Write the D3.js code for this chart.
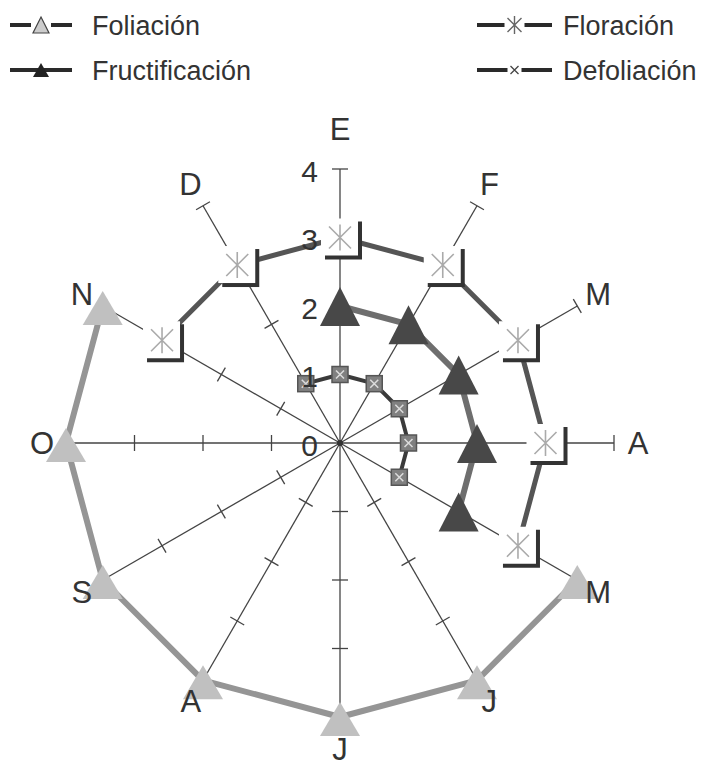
<!DOCTYPE html>
<html>
<head>
<meta charset="utf-8">
<script src="https://cdn.jsdelivr.net/npm/d3@7"></script>
<style>
  html, body { margin: 0; padding: 0; background: #fff; }
  svg { display: block; font-family: "Liberation Sans", Arial, sans-serif; }
</style>
</head>
<body>
<div id="chart"></div>
<script>
// Meses (E = enero ... D = diciembre), en sentido horario desde arriba
const meses = ["E", "F", "M", "A", "M", "J", "J", "A", "S", "O", "N", "D"];
const ticks = [0, 1, 2, 3, 4];

// Valores de cada fenofase por mes (null = sin dato)
const foliacion      = [null, null, null, null, 4, 4, 4, 4, 4, 4, 4, null];
const fructificacion = [2, 2, 2, 2, 2, null, null, null, null, null, null, null];
const floracion      = [3, 3, 3, 3, 3, null, null, null, null, null, 3, 3];
const defoliacion    = [1, 1, 1, 1, 1, null, null, null, null, null, null, 1];

const width = 702, height = 769;
const cx = 340, cy = 443;
const n = meses.length;

const svg = d3.select("#chart").append("svg")
    .attr("width", width)
    .attr("height", height);

const r = d3.scaleLinear().domain([0, 4]).range([0, 274]);
const angle = d3.scaleLinear().domain([0, n]).range([0, 2 * Math.PI]);

const g = svg.append("g").attr("transform", `translate(${cx},${cy})`);

// posicion de un punto (angulo 0 arriba, sentido horario)
function pos(i, v) {
    const a = angle(i);
    return [Math.sin(a) * r(v), -Math.cos(a) * r(v)];
}

// Ejes radiales con sus marcas
meses.forEach((m, i) => {
    const a = angle(i);
    const end = pos(i, 4);
    g.append("line")
        .attr("x1", 0).attr("y1", 0)
        .attr("x2", end[0]).attr("y2", end[1])
        .attr("stroke", "#444")
        .attr("stroke-width", 1.3);
    ticks.slice(1).forEach(t => {
        const p = pos(i, t);
        const len = 8;
        const dx = Math.cos(a) * len, dy = Math.sin(a) * len;
        g.append("line")
            .attr("x1", p[0] - dx).attr("y1", p[1] - dy)
            .attr("x2", p[0] + dx).attr("y2", p[1] + dy)
            .attr("stroke", "#444")
            .attr("stroke-width", 1.3);
    });
});
g.append("circle").attr("r", 3).attr("fill", "#333");

// Cerrar el ciclo: se repite el primer mes al final
function cerrar(arr) {
    return arr.concat([arr[0]]).map((v, i) => ({ i: i, v: v }));
}

const linea = d3.lineRadial()
    .defined(d => d.v != null)
    .angle(d => angle(d.i))
    .radius(d => r(d.v));

function dibujarLinea(datos, color, grosor) {
    g.append("path")
        .datum(cerrar(datos))
        .attr("d", linea)
        .attr("fill", "none")
        .attr("stroke", color)
        .attr("stroke-width", grosor)
        .attr("stroke-linejoin", "round");
}

function puntos(datos) {
    return datos.map((v, i) => ({ i: i, v: v })).filter(d => d.v != null);
}

// Foliacion
dibujarLinea(foliacion, "#959595", 6);
g.selectAll(".fol").data(puntos(foliacion)).join("path")
    .attr("class", "fol")
    .attr("transform", d => `translate(${pos(d.i, d.v)})`)
    .attr("d", "M0,-15L20,19L-20,19Z")
    .attr("fill", "#c0c0c0");

// Floracion
dibujarLinea(floracion, "#555", 5);
const flo = g.selectAll(".flo").data(puntos(floracion)).join("g")
    .attr("class", "flo")
    .attr("transform", d => `translate(${pos(d.i, d.v)})`);
flo.append("rect").attr("x", -15).attr("y", -16).attr("width", 37).attr("height", 38).attr("fill", "#333");
flo.append("rect").attr("x", -19).attr("y", -19).attr("width", 37).attr("height", 37).attr("fill", "#fff");
flo.append("path")
    .attr("d", "M-11,-11L11,11M-11,11L11,-11M0,-13L0,13")
    .attr("stroke", "#aaa")
    .attr("stroke-width", 1.6);

// Fructificacion
dibujarLinea(fructificacion, "#6e6e6e", 6);
g.selectAll(".fru").data(puntos(fructificacion)).join("path")
    .attr("class", "fru")
    .attr("transform", d => `translate(${pos(d.i, d.v)})`)
    .attr("d", "M0,-19L20,20L-20,20Z")
    .attr("fill", "#484848");

// Defoliacion
dibujarLinea(defoliacion, "#3a3a3a", 4);
const def = g.selectAll(".def").data(puntos(defoliacion)).join("g")
    .attr("class", "def")
    .attr("transform", d => `translate(${pos(d.i, d.v)})`);
def.append("rect").attr("x", -8).attr("y", -8).attr("width", 16).attr("height", 16)
    .attr("fill", "#808080").attr("stroke", "#555").attr("stroke-width", 1.5);
def.append("path").attr("d", "M-4,-4L4,4M-4,4L4,-4")
    .attr("stroke", "#ddd").attr("stroke-width", 1.5);

// Etiquetas de la escala (a la izquierda del eje E)
g.selectAll(".tick-label").data(ticks).join("text")
    .attr("class", "tick-label")
    .attr("x", -22)
    .attr("y", d => -r(d) + 2)
    .attr("text-anchor", "end")
    .attr("dominant-baseline", "central")
    .attr("font-size", 30)
    .attr("fill", "#333")
    .text(d => d);

// Etiquetas de los meses
function radioEtiqueta(i) {
    const c = Math.cos(angle(i));
    return 298 + (c > 0 ? 16 : 8) * Math.pow(Math.abs(c), 20);
}
g.selectAll(".mes").data(meses).join("text")
    .attr("class", "mes")
    .attr("x", (d, i) => Math.sin(angle(i)) * radioEtiqueta(i))
    .attr("y", (d, i) => -Math.cos(angle(i)) * radioEtiqueta(i))
    .attr("text-anchor", "middle")
    .attr("dominant-baseline", "central")
    .attr("font-size", 31)
    .attr("fill", "#333")
    .text(d => d);

// Leyenda
const leyenda = [
    { nombre: "Foliación", x: 10, y: 25, tipo: "fol" },
    { nombre: "Fructificación", x: 10, y: 70, tipo: "fru" },
    { nombre: "Floración", x: 477, y: 25, tipo: "flo" },
    { nombre: "Defoliación", x: 477, y: 70, tipo: "def" }
];
leyenda.forEach(l => {
    const ancho = l.x < 100 ? 62 : 75;
    const mx = l.x + ancho / 2;
    svg.append("line")
        .attr("x1", l.x).attr("x2", l.x + ancho)
        .attr("y1", l.y).attr("y2", l.y)
        .attr("stroke", "#2a2a2a").attr("stroke-width", 4);
    if (l.tipo === "fol") {
        svg.append("rect").attr("x", mx - 10).attr("y", l.y - 9).attr("width", 20).attr("height", 19).attr("fill", "#fff");
        svg.append("path").attr("transform", `translate(${mx},${l.y})`)
            .attr("d", "M0,-8L8,8L-8,8Z").attr("fill", "#ccc").attr("stroke", "#444").attr("stroke-width", 1.2);
    } else if (l.tipo === "fru") {
        svg.append("path").attr("transform", `translate(${mx},${l.y})`)
            .attr("d", "M0,-7L8,7L-8,7Z").attr("fill", "#222");
    } else if (l.tipo === "flo") {
        svg.append("rect").attr("x", mx - 10).attr("y", l.y - 10).attr("width", 20).attr("height", 20).attr("fill", "#fff");
        svg.append("path").attr("transform", `translate(${mx},${l.y})`)
            .attr("d", "M-7,-7L7,7M-7,7L7,-7M0,-9L0,9").attr("stroke", "#666").attr("stroke-width", 1.4);
    } else {
        svg.append("rect").attr("x", mx - 7).attr("y", l.y - 8).attr("width", 14).attr("height", 16).attr("fill", "#fff");
        svg.append("path").attr("transform", `translate(${mx},${l.y})`)
            .attr("d", "M-4,-4L4,4M-4,4L4,-4").attr("stroke", "#444").attr("stroke-width", 1.3);
    }
    svg.append("text")
        .attr("x", l.x < 100 ? 92 : 563)
        .attr("y", l.y + 10)
        .attr("font-size", 27)
        .attr("fill", "#333")
        .text(l.nombre);
});
</script>
</body>
</html>
